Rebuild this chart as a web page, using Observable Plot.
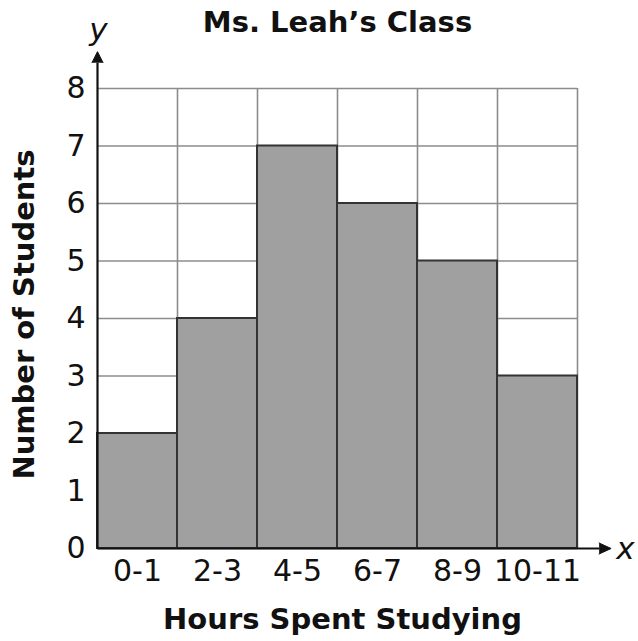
<!DOCTYPE html>
<html>
<head>
<meta charset="utf-8">
<script src="https://cdn.jsdelivr.net/npm/d3@7"></script>
<script src="https://cdn.jsdelivr.net/npm/@observablehq/plot@0.6"></script>
<style>
  html, body { margin: 0; padding: 0; background: #fff; }
  svg { display: block; }
</style>
</head>
<body>
<div id="chart"></div>
<script>
// ---- data ----
const categories = ["0-1", "2-3", "4-5", "6-7", "8-9", "10-11"];
const counts = [2, 4, 7, 6, 5, 3];
const yTicks = [0, 1, 2, 3, 4, 5, 6, 7, 8];
const title = "Ms. Leah’s Class";
const xLabel = "Hours Spent Studying";
const yLabel = "Number of Students";
// axis arrow bases (in data units, just beyond the grid)
const yAxisEnd = 8.45;
const xAxisEnd = 6.27;

const bars = categories.map((c, i) => ({cat: c, i0: i, i1: i + 1, n: counts[i]}));
const binEdges = d3.range(1, categories.length + 1);
const tickPos = categories.map((c, i) => i + 0.5);

const FONT = "DejaVu Sans, Verdana, sans-serif";
const txt = {textAnchor: "middle", lineAnchor: "middle", fill: "#111"};

const chart = Plot.plot({
  width: 638,
  height: 641,
  marginTop: 88,
  marginBottom: 93,
  marginLeft: 97,
  marginRight: 61,
  style: {fontFamily: FONT, background: "#fff", color: "#111"},
  x: {domain: [0, categories.length], axis: null},
  y: {domain: [0, 8], axis: null},
  marks: [
    // grid
    Plot.ruleY(yTicks, {stroke: "#8c8c8c", strokeWidth: 1.6}),
    Plot.ruleX(binEdges, {stroke: "#8c8c8c", strokeWidth: 1.6}),
    // bars
    Plot.rectY(bars, {x1: "i0", x2: "i1", y: "n", fill: "#a0a0a0", stroke: "#333", strokeWidth: 2}),
    // axes lines
    Plot.link([{x1: 0, y1: 0, x2: 0, y2: yAxisEnd}], {x1: "x1", y1: "y1", x2: "x2", y2: "y2", stroke: "#111", strokeWidth: 2.2}),
    Plot.link([{x1: 0, y1: 0, x2: xAxisEnd, y2: 0}], {x1: "x1", y1: "y1", x2: "x2", y2: "y2", stroke: "#111", strokeWidth: 2.2}),
    // arrow heads (filled spikes)
    Plot.vector([{x: 0, y: yAxisEnd}], {x: "x", y: "y", shape: "spike", anchor: "start", length: 11, r: 5.5, rotate: 0, stroke: "#111", fill: "#111", strokeWidth: 1}),
    Plot.vector([{x: xAxisEnd, y: 0}], {x: "x", y: "y", shape: "spike", anchor: "start", length: 12, r: 5.5, rotate: 90, stroke: "#111", fill: "#111", strokeWidth: 1}),
    // tick labels
    Plot.axisY(yTicks, {tickSize: 0, tickPadding: 12, fontSize: 30, label: null, tickFormat: d => String(d)}),
    Plot.axisX(tickPos, {tickSize: 0, tickPadding: 11, fontSize: 30, label: null, tickFormat: (d, i) => categories[i]}),
    // title and axis titles
    Plot.text([title], {...txt, frameAnchor: "top", dy: -66, fontSize: 29, fontWeight: "bold"}),
    Plot.text([xLabel], {...txt, frameAnchor: "bottom", dy: 71, dx: 5, fontSize: 29, fontWeight: "bold"}),
    Plot.text([yLabel], {...txt, frameAnchor: "left", dx: -73, dy: -4, rotate: -90, fontSize: 29, fontWeight: "bold"}),
    // axis letters
    Plot.text(["y"], {...txt, frameAnchor: "top-left", dy: -58, dx: 1, fontSize: 31, fontStyle: "italic"}),
    Plot.text(["x"], {...txt, frameAnchor: "bottom-right", dx: 48, dy: 1, fontSize: 31, fontStyle: "italic"})
  ]
});
document.getElementById("chart").appendChild(chart);
</script>
</body>
</html>
